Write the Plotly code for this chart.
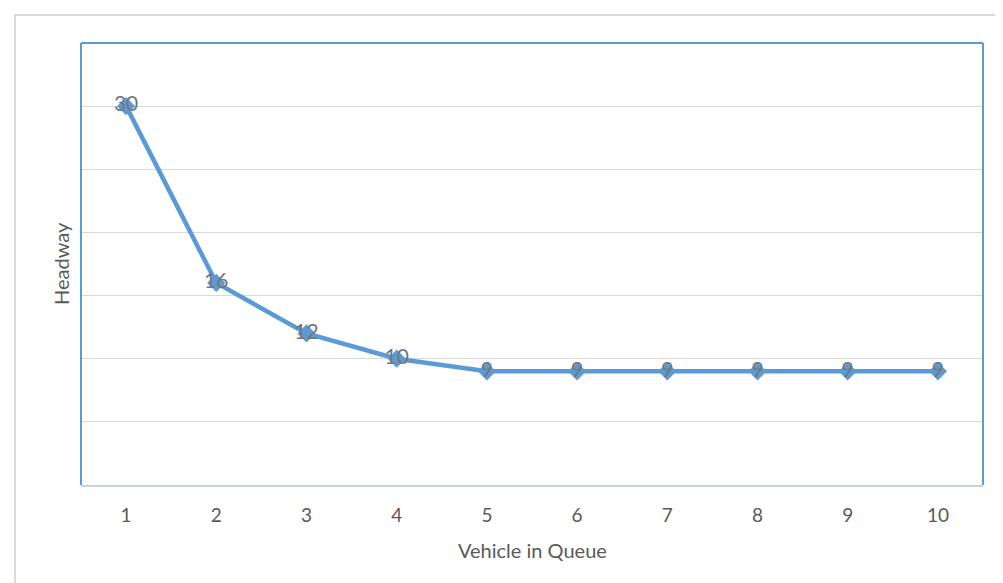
import plotly.graph_objects as go

vehicles = [1, 2, 3, 4, 5, 6, 7, 8, 9, 10]
headway = [30, 16, 12, 10, 9, 9, 9, 9, 9, 9]
x_title = "Vehicle in Queue"
y_title = "Headway"

BLUE = "#5B9BD5"
FONT = "Lato"

fig = go.Figure()
fig.add_trace(go.Scatter(
    x=vehicles, y=headway,
    mode="lines+markers+text",
    text=[str(v) for v in headway],
    textposition="middle center",
    textfont=dict(family=FONT, size=21, color="#767676"),
    line=dict(color=BLUE, width=4.5),
    marker=dict(symbol="diamond", size=14, color=BLUE),
    cliponaxis=False,
    hoverinfo="x+y",
))

fig.update_layout(
    width=1003, height=583,
    margin=dict(l=73, r=28, t=35, b=106),
    paper_bgcolor="white", plot_bgcolor="white",
    showlegend=False,
    font=dict(family=FONT, color="#595959"),
    xaxis=dict(
        tickmode="array", tickvals=vehicles, ticktext=[str(v) for v in vehicles],
        range=[0.5, 10.5],
        showgrid=False, zeroline=False,
        showline=True, linecolor="#C8D2DC", linewidth=1.5,
        ticks="", ticklabelstandoff=12,
        tickfont=dict(family=FONT, size=19, color="#595959"),
    ),
    yaxis=dict(
        range=[0, 35], dtick=5, tick0=0,
        showgrid=True, gridcolor="#D9D9D9", gridwidth=1,
        zeroline=False, showticklabels=False, ticks="",
        showline=False,
    ),
    annotations=[
        dict(text=x_title, xref="paper", yref="paper", x=0.5, y=0,
             xanchor="center", yanchor="middle", yshift=-65, showarrow=False,
             font=dict(family=FONT, size=20, color="#595959")),
        dict(text=y_title, xref="paper", yref="paper", x=0, y=0.5,
             xanchor="center", yanchor="middle", xshift=-20, textangle=-90,
             showarrow=False, font=dict(family=FONT, size=20, color="#595959")),
    ],
    shapes=[
        # outer chart border (cropped on right and bottom)
        dict(type="rect", xref="paper", yref="paper",
             x0=(7 - 73) / 902, x1=(1020 - 73) / 902,
             y0=-(600 - 477) / 442, y1=1 + (35 - 7) / 442,
             line=dict(color="#D9D9D9", width=2), layer="below"),
        # plot area frame: left, top, right
        dict(type="line", xref="paper", yref="paper", x0=0, x1=0, y0=0, y1=1,
             line=dict(color=BLUE, width=2)),
        dict(type="line", xref="paper", yref="paper", x0=0, x1=1, y0=1, y1=1,
             line=dict(color=BLUE, width=2)),
        dict(type="line", xref="paper", yref="paper", x0=1, x1=1, y0=0, y1=1,
             line=dict(color=BLUE, width=2)),
    ],
)

fig.write_html("out.html")
